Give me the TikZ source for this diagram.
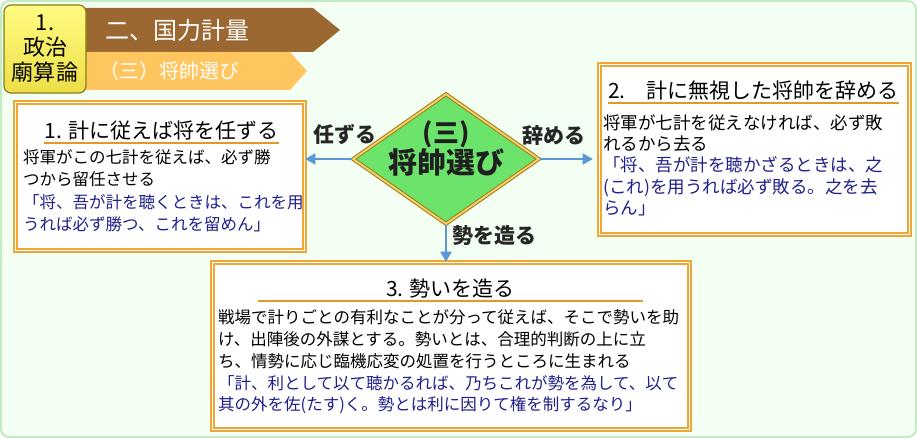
\documentclass[tikz,border=0pt]{standalone}
\usepackage{fontspec}
\setmainfont{Noto Sans CJK JP}
\usepackage{tikz}
\usetikzlibrary{shapes.geometric, arrows.meta, positioning}

\definecolor{bgmint}{RGB}{244,255,244}
\definecolor{bgline}{RGB}{195,236,195}
\definecolor{boxorange}{RGB}{240,166,52}
\definecolor{ruleorange}{RGB}{228,152,40}
\definecolor{navytext}{RGB}{32,32,140}
\definecolor{arrowblue}{RGB}{91,150,214}
\definecolor{selgreen}{RGB}{108,228,108}
\definecolor{goldedge}{RGB}{168,128,28}
\definecolor{goldlight}{RGB}{240,212,110}
\definecolor{banbrown}{RGB}{156,104,50}
\definecolor{banorange}{RGB}{255,198,96}
\definecolor{polyellow}{RGB}{255,252,130}
\definecolor{polyellowdk}{RGB}{236,222,70}
\definecolor{poledge}{RGB}{140,122,20}

\tikzset{
    bgpanel/.style={fill=bgmint, draw=bgline, line width=2pt, rounded corners=8pt},
    polbox/.style={rectangle, rounded corners=7pt, draw=poledge, line width=1.2pt, top color=polyellow, bottom color=polyellowdk, minimum width=82pt, minimum height=88pt, align=center, font=\fontsize{22}{25}\selectfont, inner sep=0pt},
    hdtext/.style={text=white, anchor=west, inner sep=0pt},
    infobox/.style={rectangle, draw=boxorange, double=white, line width=1.6pt, double distance=1.6pt, fill=white},
    boxtitle/.style={font=\fontsize{21}{24}\selectfont, inner xsep=0pt, inner ysep=3pt, anchor=south},
    boxbody/.style={align=left, anchor=north west, inner sep=0pt},
    titlerule/.style={draw=ruleorange, line width=1.8pt},
    selbox/.style={diamond, draw=goldedge, double=goldlight, line width=1.1pt, double distance=1.8pt, fill=selgreen, minimum width=186pt, minimum height=130pt, inner sep=0pt},
    seltext/.style={align=center, font=\bfseries\fontsize{29}{31}\selectfont, text=black!88, yshift=10.5pt},
    link/.style={-{Triangle[length=10pt, width=11pt]}, arrowblue, line width=1.8pt},
    edgelbl/.style={font=\bfseries\fontsize{21}{24}\selectfont, text=black!85, inner sep=0pt},
}

\begin{document}
\begin{tikzpicture}[x=1pt, y=-1pt]

\useasboundingbox (0,0) rectangle (917,438);
\path[bgpanel] (1,1) rectangle (916,437);

% Header banners
\fill[banbrown] (80,8) -- (313,8) -- (340,30) -- (313,52) -- (80,52) -- cycle;
\fill[banorange] (80,52) -- (290,52) -- (307,71) -- (290,90) -- (80,90) -- cycle;
\node[polbox] (pol) at (45,49) {1.\\政治\\廟算論};
\node[hdtext, font=\fontsize{24}{26}\selectfont] (hdmain) at (105,30) {二、国力計量};
\node[hdtext, font=\fontsize{20}{22}\selectfont] (hdsub) at (99,71) {（三）将帥選び};

% Decision
\node[selbox, label={[seltext]center:{{\fontsize{26}{31}\selectfont (三)}\\将帥選び}}] (sel) at (446,159) {};

% Left box
\node[infobox, minimum width=289pt, minimum height=148pt] (keep) at (160,176.5) {};
\node[boxtitle, minimum width=233pt] (keeptitle) at (161.5,143) {1. 計に従えば将を任ずる};
\node[boxbody, font=\fontsize{16.5}{22.3}\selectfont] (keepbody) at (23,149.5) {将軍がこの七計を従えば、必ず勝\\つから留任させる\\\color{navytext}「将、吾が計を聴くときは、これを用\\\color{navytext}うれば必ず勝つ、これを留めん」};

% Right box
\node[infobox, minimum width=310pt, minimum height=170pt] (dismiss) at (754.5,149.5) {};
\node[boxtitle, minimum width=253pt] (dismisstitle) at (753.5,103) {2.　計に無視した将帥を辞める};
\node[boxbody, font=\fontsize{17.5}{21.2}\selectfont] (dismissbody) at (603,114.5) {将軍が七計を従えなければ、必ず敗\\れるから去る\\\color{navytext}「将、吾が計を聴かざるときは、之\\\color{navytext}(これ)を用うれば必ず敗る。之を去\\\color{navytext}らん」};

% Bottom box
\node[infobox, minimum width=477pt, minimum height=167pt] (shi) at (451,346) {};
\node[boxtitle, minimum width=385pt] (shititle) at (450.5,301) {3. 勢いを造る};
\node[boxbody, font=\fontsize{16.5}{21.8}\selectfont] (shibody) at (218,309.5) {戦場で計りごとの有利なことが分って従えば、そこで勢いを助\\け、出陣後の外謀とする。勢いとは、合理的判断の上に立\\ち、情勢に応じ臨機応変の処置を行うところに生まれる\\\color{navytext}「計、利として以て聴かるれば、乃ちこれが勢を為して、以て\\\color{navytext}其の外を佐(たす)く。勢とは利に因りて権を制するなり」};

% Title rules
\draw[titlerule] (keeptitle.south west) -- (keeptitle.south east);
\draw[titlerule] (dismisstitle.south west) -- (dismisstitle.south east);
\draw[titlerule] (shititle.south west) -- (shititle.south east);

% Arrows
\draw[link] (sel.west) -- node[edgelbl, pos=0.15, above=13pt] (lblkeep) {任ずる} (sel.west -| keep.east);
\draw[link, shorten >=6pt] (sel.east) -- node[edgelbl, pos=0.25, above=13pt] (lbldismiss) {辞める} (sel.east -| dismiss.west);
\draw[link] (sel.south) -- node[edgelbl, pos=0.3, right=6pt] (lblshi) {勢を造る} (sel.south |- shi.north);

\end{tikzpicture}
\end{document}
